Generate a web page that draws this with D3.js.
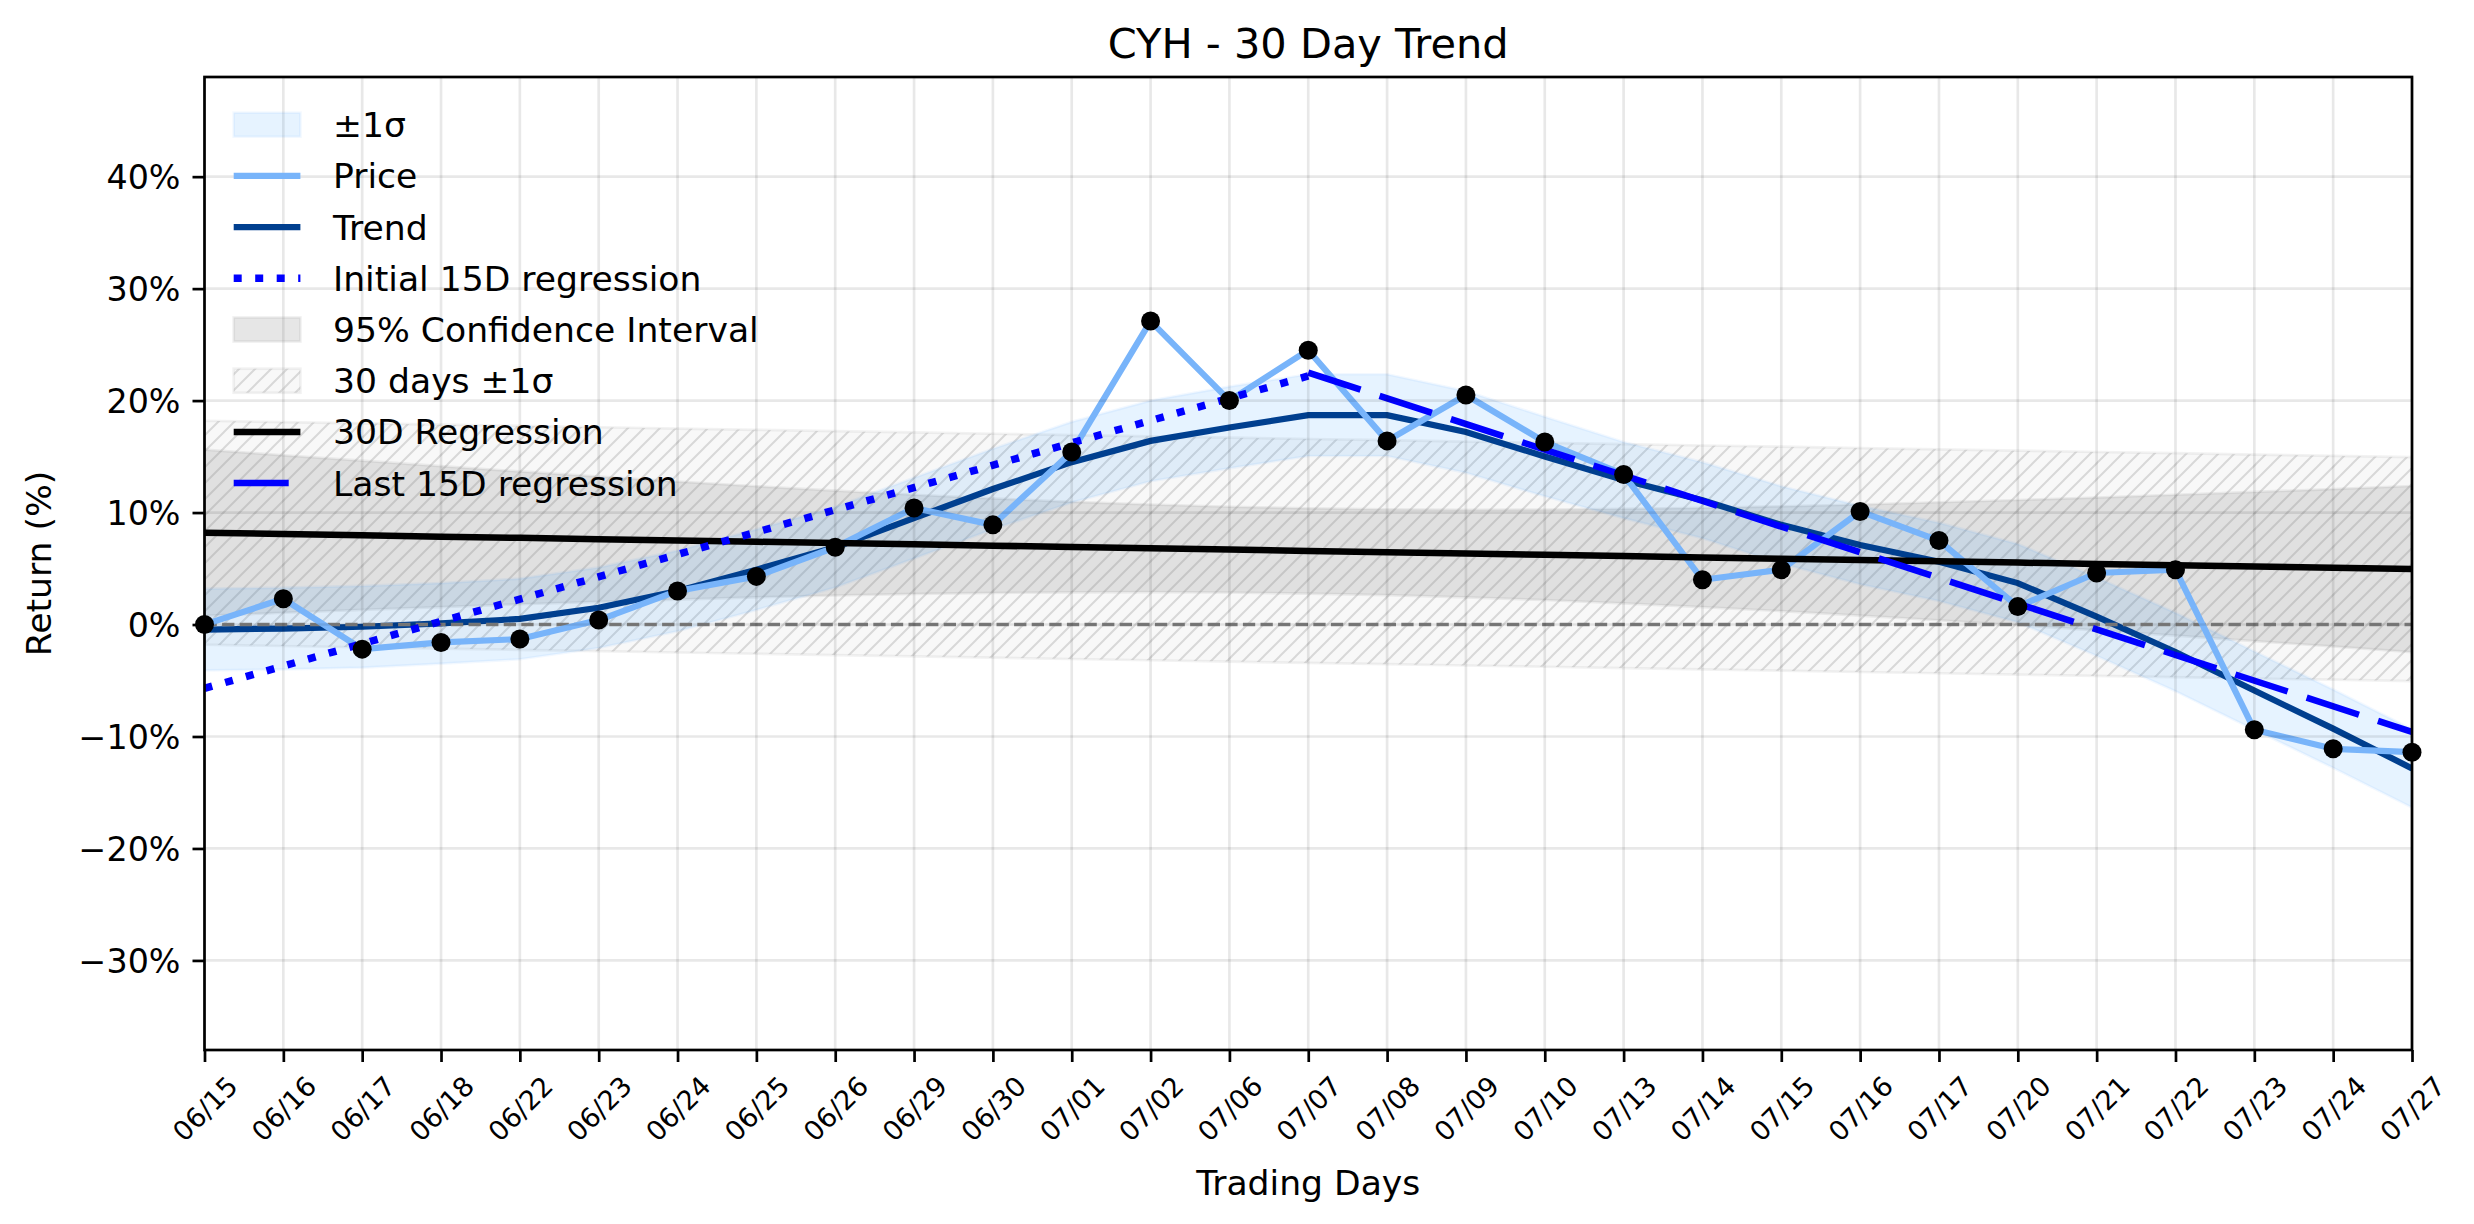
<!DOCTYPE html>
<html>
<head>
<meta charset="utf-8">
<script src="https://cdn.jsdelivr.net/npm/d3@7"></script>
<style>
  body { margin: 0; background: #fff; }
  svg { display: block; font-family: "DejaVu Sans", sans-serif; }
</style>
</head>
<body>
<div id="main"></div>
<script>
// values (percent return)
const dates = ["06/15","06/16","06/17","06/18","06/22","06/23","06/24","06/25","06/26","06/29","06/30","07/01","07/02","07/06","07/07","07/08","07/09","07/10","07/13","07/14","07/15","07/16","07/17","07/20","07/21","07/22","07/23","07/24","07/27"];
const price = [0.0, 2.3, -2.2, -1.6, -1.3, 0.4, 3.0, 4.3, 6.9, 10.4, 8.9, 15.4, 27.1, 20.0, 24.5, 16.4, 20.5, 16.3, 13.4, 4.0, 4.9, 10.1, 7.5, 1.6, 4.6, 4.9, -9.4, -11.1, -11.4];
const trend = [-0.45, -0.36, -0.2, 0.1, 0.5, 1.5, 3.0, 4.9, 6.9, 9.5, 12.1, 14.5, 16.4, 17.6, 18.7, 18.7, 17.2, 15.0, 12.9, 11.1, 8.9, 7.1, 5.6, 3.7, 0.7, -2.45, -5.9, -9.3, -12.85];
const sigma = [3.65, 3.65, 3.65, 3.6, 3.6, 3.6, 3.6, 3.6, 3.6, 3.6, 3.6, 3.6, 3.6, 3.65, 3.65, 3.65, 3.65, 3.55, 3.4, 3.4, 3.45, 3.5, 3.5, 3.5, 3.5, 3.5, 3.5, 3.5, 3.5];
const reg30 = [8.20, 8.08, 7.97, 7.85, 7.74, 7.62, 7.50, 7.39, 7.27, 7.16, 7.04, 6.92, 6.81, 6.69, 6.57, 6.46, 6.34, 6.23, 6.11, 5.99, 5.88, 5.76, 5.65, 5.53, 5.41, 5.30, 5.18, 5.07, 4.95];
const ciHalf = [7.42, 7.03, 6.66, 6.29, 5.93, 5.59, 5.27, 4.96, 4.68, 4.43, 4.22, 4.04, 3.91, 3.83, 3.81, 3.83, 3.91, 4.04, 4.22, 4.43, 4.68, 4.96, 5.27, 5.59, 5.93, 6.29, 6.66, 7.03, 7.42];
const sigma30 = 10.0;
const initDates = ["06/15", "07/07"];
const initVals = [-5.7, 22.2];
const lastDates = ["07/07", "07/27"];
const lastVals = [22.5, -9.6];
const yTicks = [-30, -20, -10, 0, 10, 20, 30, 40];
const legendLabels = ["±1σ", "Price", "Trend", "Initial 15D regression", "95% Confidence Interval", "30 days ±1σ", "30D Regression", "Last 15D regression"];

const width = 2474, height = 1224;
const margin = {top: 77, right: 62, bottom: 174, left: 204.5};
const fs = 33.3, lfs = 34.6, xfs = 27;

const priceColor = "#78b4fa", trendColor = "#003f8f";
const bandFill = "rgba(30,144,255,0.11)";
const ciFill = "rgba(128,128,128,0.2)";
const hatchFill = "rgba(128,128,128,0.06)";

let svg = d3.select("#main").append("svg")
            .attr("width", width)
            .attr("height", height);

const x = d3.scalePoint().domain(dates).range([margin.left, width - margin.right]);
const y = d3.scaleLinear().domain([-38.0, 48.9]).range([height - margin.bottom, margin.top]);

let defs = svg.append("defs");
defs.append("clipPath").attr("id", "clip")
    .append("rect")
    .attr("x", margin.left).attr("y", margin.top)
    .attr("width", width - margin.left - margin.right)
    .attr("height", height - margin.top - margin.bottom);

let pat = defs.append("pattern").attr("id", "hatch")
              .attr("patternUnits", "userSpaceOnUse")
              .attr("width", 16).attr("height", 16);
pat.append("path")
   .attr("d", "M-2,2 L2,-2 M0,16 L16,0 M14,18 L18,14")
   .attr("stroke", "#b8b8b8")
   .attr("stroke-width", 2);

let plot = svg.append("g").attr("clip-path", "url(#clip)");

const band = (lo, hi) => d3.area()
    .x((d, i) => x(dates[i]))
    .y0((d, i) => y(lo(i)))
    .y1((d, i) => y(hi(i)));

// 30 days ±1σ (hatched)
let hatchArea = band(i => reg30[i] - sigma30, i => reg30[i] + sigma30);
plot.append("path").datum(dates).attr("d", hatchArea)
    .attr("fill", hatchFill).attr("stroke", "rgba(128,128,128,0.1)").attr("stroke-width", 2.7);
plot.append("path").datum(dates).attr("d", hatchArea)
    .attr("fill", "url(#hatch)").attr("opacity", 0.5);

// 95% CI
plot.append("path").datum(dates)
    .attr("d", band(i => reg30[i] - ciHalf[i], i => reg30[i] + ciHalf[i]))
    .attr("fill", ciFill).attr("stroke", "rgba(128,128,128,0.12)").attr("stroke-width", 2.7);

// ±1σ around trend
plot.append("path").datum(dates)
    .attr("d", band(i => trend[i] - sigma[i], i => trend[i] + sigma[i]))
    .attr("fill", bandFill).attr("stroke", "rgba(30,144,255,0.06)").attr("stroke-width", 2.7);

// grid
svg.append("g").selectAll("line.vg").data(dates).enter().append("line")
   .attr("x1", d => x(d)).attr("x2", d => x(d))
   .attr("y1", margin.top).attr("y2", height - margin.bottom)
   .attr("stroke", "#000").attr("stroke-opacity", 0.09).attr("stroke-width", 2.7);
svg.append("g").selectAll("line.hg").data(yTicks).enter().append("line")
   .attr("x1", margin.left).attr("x2", width - margin.right)
   .attr("y1", d => y(d)).attr("y2", d => y(d))
   .attr("stroke", "#000").attr("stroke-opacity", 0.09).attr("stroke-width", 2.7);

let line = d3.line().x((d, i) => x(dates[i])).y(d => y(d));

plot.append("path").datum(trend).attr("d", line)
    .attr("fill", "none").attr("stroke", trendColor).attr("stroke-width", 6.2);

plot.append("line")
    .attr("x1", margin.left).attr("x2", width - margin.right)
    .attr("y1", y(0)).attr("y2", y(0))
    .attr("stroke", "#808080").attr("stroke-width", 3.3)
    .attr("stroke-dasharray", "12.3 5.3");

plot.append("path").datum(price).attr("d", line)
    .attr("fill", "none").attr("stroke", priceColor).attr("stroke-width", 6.2)
    .attr("stroke-linejoin", "round");

plot.append("path").datum(reg30).attr("d", line)
    .attr("fill", "none").attr("stroke", "#000").attr("stroke-width", 6.5);

let segLine = (ds) => d3.line().x((d, i) => x(ds[i])).y(d => y(d));

plot.append("path").datum(initVals).attr("d", segLine(initDates))
    .attr("fill", "none").attr("stroke", "#0000ff").attr("stroke-width", 7.5)
    .attr("stroke-dasharray", "8 13.5");

plot.append("path").datum(lastVals).attr("d", segLine(lastDates))
    .attr("fill", "none").attr("stroke", "#0000ff").attr("stroke-width", 6.5)
    .attr("stroke-dasharray", "55 20");

svg.append("g").selectAll("circle").data(price).enter().append("circle")
   .attr("cx", (d, i) => x(dates[i]))
   .attr("cy", d => y(d))
   .attr("r", 9.5)
   .attr("fill", "#000");

// frame
svg.append("rect")
   .attr("x", margin.left).attr("y", margin.top)
   .attr("width", width - margin.left - margin.right)
   .attr("height", height - margin.top - margin.bottom)
   .attr("fill", "none").attr("stroke", "#000").attr("stroke-width", 2.7);

// y axis
let yAxis = d3.axisLeft(y).tickValues(yTicks)
              .tickFormat(d => (d < 0 ? "\u2212" : "") + Math.abs(d) + "%")
              .tickSize(12).tickPadding(12);
let yg = svg.append("g").attr("transform", `translate(${margin.left},0)`).call(yAxis);
yg.select(".domain").remove();
yg.selectAll(".tick line").attr("stroke-width", 2.7);
yg.selectAll(".tick text").attr("font-size", fs).attr("font-family", "DejaVu Sans").attr("dy", "0.36em").attr("fill", "#000");

// x axis
let xAxis = d3.axisBottom(x).tickSize(12).tickPadding(12);
let xg = svg.append("g").attr("transform", `translate(0,${height - margin.bottom})`).call(xAxis);
xg.select(".domain").remove();
xg.selectAll(".tick line").attr("stroke-width", 2.7);
xg.selectAll(".tick text")
  .attr("font-size", xfs).attr("font-family", "DejaVu Sans").attr("fill", "#000")
  .each(function () {
      let t = d3.select(this);
      t.attr("y", null).attr("dy", "0.36em").attr("text-anchor", "middle");
      let w = this.getComputedTextLength();
      let side = (w + 0.95 * xfs) / Math.SQRT2;
      t.attr("transform", `translate(0,${12 + 10 + side / 2}) rotate(-45)`);
  });

// titles
svg.append("text").attr("x", (margin.left + width - margin.right) / 2).attr("y", 58)
   .attr("text-anchor", "middle").attr("font-size", 41.5).text("CYH - 30 Day Trend");
svg.append("text").attr("x", (margin.left + width - margin.right) / 2).attr("y", 1195)
   .attr("text-anchor", "middle").attr("font-size", lfs).text("Trading Days");
svg.append("text").attr("transform", `translate(51,${(margin.top + height - margin.bottom) / 2}) rotate(-90)`)
   .attr("text-anchor", "middle").attr("font-size", lfs).text("Return (%)");

// legend
let lg = svg.append("g");
const hx = 233.7, hlen = 66.7, tx = 333, ly0 = 124.7, lstep = 51.2;
legendLabels.forEach((lab, i) => {
    let cy = ly0 + i * lstep;
    if (i === 0) {
        lg.append("rect").attr("x", hx).attr("y", cy - 12).attr("width", hlen).attr("height", 24)
          .attr("fill", bandFill).attr("stroke", "rgba(30,144,255,0.06)").attr("stroke-width", 2.7);
    } else if (i === 4) {
        lg.append("rect").attr("x", hx).attr("y", cy - 12).attr("width", hlen).attr("height", 24)
          .attr("fill", ciFill).attr("stroke", "rgba(128,128,128,0.12)").attr("stroke-width", 2.7);
    } else if (i === 5) {
        lg.append("rect").attr("x", hx).attr("y", cy - 12).attr("width", hlen).attr("height", 24)
          .attr("fill", hatchFill).attr("stroke", "rgba(128,128,128,0.1)").attr("stroke-width", 2.7);
        lg.append("rect").attr("x", hx).attr("y", cy - 12).attr("width", hlen).attr("height", 24)
          .attr("fill", "url(#hatch)").attr("opacity", 0.5);
    } else {
        let st = {1: [priceColor, 6.2, null], 2: [trendColor, 6.2, null], 3: ["#0000ff", 7.5, "8 13.5"],
                  6: ["#000", 6.5, null], 7: ["#0000ff", 6.5, "55 20"]}[i];
        lg.append("line").attr("x1", hx).attr("x2", hx + hlen).attr("y1", cy).attr("y2", cy)
          .attr("stroke", st[0]).attr("stroke-width", st[1]).attr("stroke-dasharray", st[2]);
    }
    lg.append("text").attr("x", tx).attr("y", cy).attr("dy", "0.36em")
      .attr("font-size", lfs).text(lab);
});
</script>
</body>
</html>
